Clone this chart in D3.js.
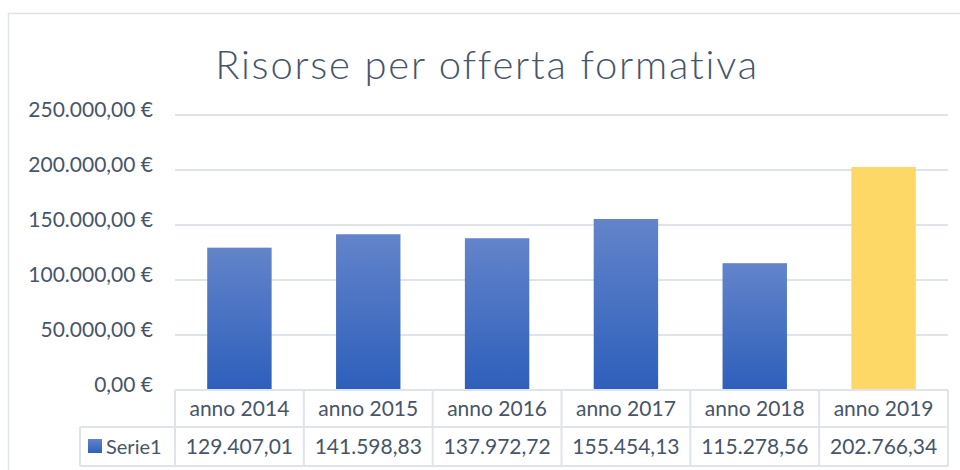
<!DOCTYPE html>
<html>
<head>
<meta charset="utf-8">
<script src="https://cdnjs.cloudflare.com/ajax/libs/d3/7.8.5/d3.min.js"></script>
<style>
  body { margin: 0; background: #fff; }
  svg { display: block; }
</style>
</head>
<body>
<svg width="960" height="470"></svg>
<script>
const categories = ["anno 2014", "anno 2015", "anno 2016", "anno 2017", "anno 2018", "anno 2019"];
const values = [129407.01, 141598.83, 137972.72, 155454.13, 115278.56, 202766.34];
const valueLabels = ["129.407,01", "141.598,83", "137.972,72", "155.454,13", "115.278,56", "202.766,34"];
const yTicks = [0, 50000, 100000, 150000, 200000, 250000];
const seriesName = "Serie1";
const title = "Risorse per offerta formativa";

const svg = d3.select("svg");
const textColor = "#475569";
const gridColor = "#dfe3ea";
const labelSize = 21;

const plot = {left: 175, right: 948, top: 115, bottom: 390};

const x = d3.scaleBand()
    .domain(categories)
    .range([plot.left, plot.right])
    .paddingInner(0.5)
    .paddingOuter(0.25);

const y = d3.scaleLinear()
    .domain([0, 250000])
    .range([plot.bottom, plot.top]);

// gradient for the blue bars
const defs = svg.append("defs");
const grad = defs.append("linearGradient")
    .attr("id", "blueGrad")
    .attr("x1", 0).attr("y1", 0).attr("x2", 0).attr("y2", 1);
grad.append("stop").attr("offset", "0%").attr("stop-color", "#6384ca");
grad.append("stop").attr("offset", "100%").attr("stop-color", "#2d5fbb");

// outer chart border
svg.append("rect")
    .attr("x", 8.5).attr("y", 13.5)
    .attr("width", 970).attr("height", 470)
    .attr("fill", "none")
    .attr("stroke", gridColor)
    .attr("stroke-width", 1.5);

svg.append("text")
    .attr("x", 487)
    .attr("y", 79)
    .attr("text-anchor", "middle")
    .attr("fill", textColor)
    .attr("font-family", "Lato")
    .attr("font-weight", 300)
    .attr("font-size", 40)
    .attr("letter-spacing", 1.8)
    .text(title);

// gridlines and y labels
const fmt = d => d3.format(",.2f")(d).replace(/,/g, "X").replace(".", ",").replace(/X/g, ".") + " €";

svg.append("g")
    .selectAll("line")
    .data(yTicks.filter(d => d > 0))
    .join("line")
    .attr("x1", plot.left).attr("x2", plot.right)
    .attr("y1", d => y(d)).attr("y2", d => y(d))
    .attr("stroke", gridColor)
    .attr("stroke-width", 2);

const yAxis = svg.append("g")
    .attr("transform", `translate(${plot.left - 22},0)`)
    .call(d3.axisLeft(y).tickValues(yTicks).tickFormat(fmt).tickSize(0).tickPadding(0));
yAxis.select(".domain").remove();
yAxis.selectAll("text")
    .attr("fill", textColor)
    .attr("font-family", "Lato")
    .attr("font-size", labelSize)
    .attr("dy", "0.05em");

// bars
svg.append("g")
    .selectAll("rect")
    .data(values)
    .join("rect")
    .attr("x", (d, i) => x(categories[i]))
    .attr("width", x.bandwidth())
    .attr("y", d => y(d))
    .attr("height", d => y(0) - y(d))
    .attr("fill", (d, i) => i === values.length - 1 ? "#fed866" : "url(#blueGrad)");

// data table
const colW = (plot.right - plot.left) / categories.length;
const row1 = {top: plot.bottom, bottom: 427};
const row2 = {top: 427, bottom: 466};
const legendLeft = 80;
const table = svg.append("g")
    .attr("stroke", gridColor)
    .attr("stroke-width", 2)
    .attr("fill", "none");

table.append("line")
    .attr("x1", plot.left).attr("x2", plot.right)
    .attr("y1", row1.top).attr("y2", row1.top);
table.append("line")
    .attr("x1", legendLeft).attr("x2", plot.right)
    .attr("y1", row1.bottom).attr("y2", row1.bottom);
table.append("line")
    .attr("x1", legendLeft).attr("x2", plot.right)
    .attr("y1", row2.bottom).attr("y2", row2.bottom);
table.append("line")
    .attr("x1", legendLeft).attr("x2", legendLeft)
    .attr("y1", row2.top).attr("y2", row2.bottom);
table.selectAll("line.col")
    .data(d3.range(categories.length + 1))
    .join("line")
    .attr("class", "col")
    .attr("x1", i => plot.left + i * colW).attr("x2", i => plot.left + i * colW)
    .attr("y1", row1.top).attr("y2", row2.bottom);

svg.append("g")
    .selectAll("text")
    .data(categories)
    .join("text")
    .attr("x", d => x(d) + x.bandwidth() / 2)
    .attr("y", (row1.top + row1.bottom) / 2 + 7)
    .attr("text-anchor", "middle")
    .attr("fill", textColor)
    .attr("font-family", "Lato")
    .attr("font-size", labelSize)
    .text(d => d);

svg.append("g")
    .selectAll("text")
    .data(valueLabels)
    .join("text")
    .attr("x", (d, i) => x(categories[i]) + x.bandwidth() / 2)
    .attr("y", (row2.top + row2.bottom) / 2 + 7)
    .attr("text-anchor", "middle")
    .attr("fill", textColor)
    .attr("font-family", "Lato")
    .attr("font-size", labelSize)
    .text(d => d);

// legend key
svg.append("rect")
    .attr("x", 88).attr("y", 439)
    .attr("width", 14).attr("height", 14)
    .attr("fill", "url(#blueGrad)");
svg.append("text")
    .attr("x", 106)
    .attr("y", (row2.top + row2.bottom) / 2 + 7)
    .attr("fill", textColor)
    .attr("font-family", "Lato")
    .attr("font-size", labelSize - 1)
    .text(seriesName);
</script>
</body>
</html>
